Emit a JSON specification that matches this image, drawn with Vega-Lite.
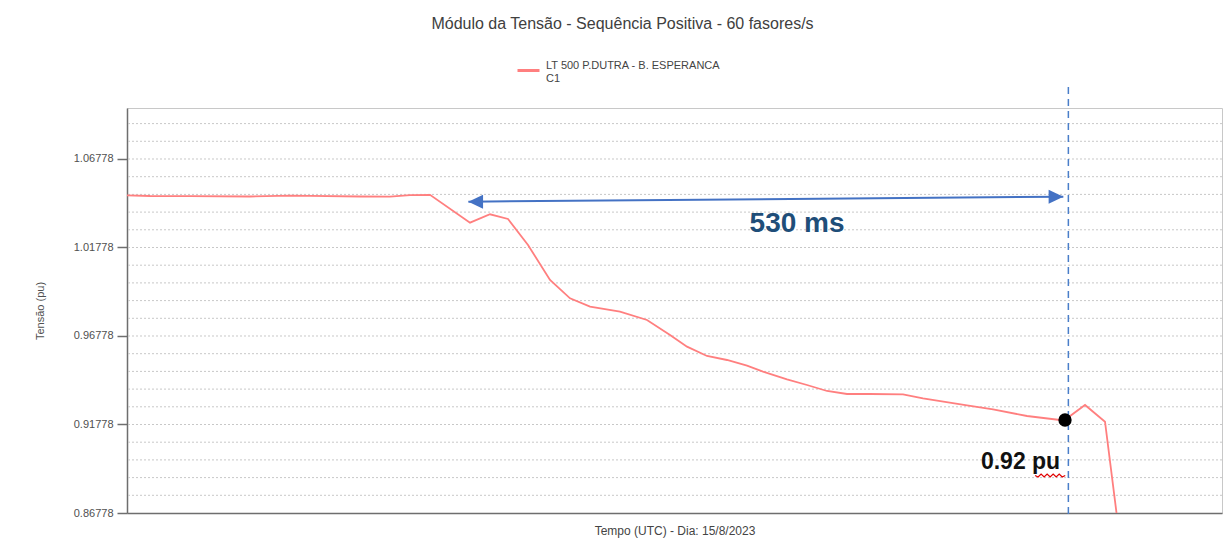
{
  "$schema": "https://vega.github.io/schema/vega-lite/v6.json",
  "autosize": {"type": "none"},
  "width": 1095,
  "height": 405,
  "padding": {"left": 127, "top": 108, "right": 3, "bottom": 25},
  "background": "white",
  "title": {
    "text": "Módulo da Tensão - Sequência Positiva - 60 fasores/s",
    "font": "Liberation Sans",
    "fontSize": 16,
    "fontWeight": "normal",
    "color": "#404040",
    "anchor": "middle",
    "dx": -52,
    "offset": 26
  },
  "config": {
    "view": {"stroke": "#c8c8c8", "strokeWidth": 1},
    "font": "Liberation Sans"
  },
  "datasets": {
    "grade": [
      {"pu": 0.87778}, {"pu": 0.88778}, {"pu": 0.89778}, {"pu": 0.90778}, {"pu": 0.91778},
      {"pu": 0.92778}, {"pu": 0.93778}, {"pu": 0.94778}, {"pu": 0.95778}, {"pu": 0.96778},
      {"pu": 0.97778}, {"pu": 0.98778}, {"pu": 0.99778}, {"pu": 1.00778}, {"pu": 1.01778},
      {"pu": 1.02778}, {"pu": 1.03778}, {"pu": 1.04778}, {"pu": 1.05778}, {"pu": 1.06778},
      {"pu": 1.07778}, {"pu": 1.08778}
    ],
    "serie": [
      {"t": 0, "pu": 1.04727, "serie": "LT 500  P.DUTRA - B. ESPERANCA C1"},
      {"t": 20.6, "pu": 1.04688, "serie": "LT 500  P.DUTRA - B. ESPERANCA C1"},
      {"t": 56.4, "pu": 1.04677, "serie": "LT 500  P.DUTRA - B. ESPERANCA C1"},
      {"t": 110.1, "pu": 1.04659, "serie": "LT 500  P.DUTRA - B. ESPERANCA C1"},
      {"t": 145.9, "pu": 1.0471, "serie": "LT 500  P.DUTRA - B. ESPERANCA C1"},
      {"t": 163.8, "pu": 1.04699, "serie": "LT 500  P.DUTRA - B. ESPERANCA C1"},
      {"t": 208.5, "pu": 1.04659, "serie": "LT 500  P.DUTRA - B. ESPERANCA C1"},
      {"t": 235.4, "pu": 1.04653, "serie": "LT 500  P.DUTRA - B. ESPERANCA C1"},
      {"t": 253.3, "pu": 1.04733, "serie": "LT 500  P.DUTRA - B. ESPERANCA C1"},
      {"t": 271.2, "pu": 1.04755, "serie": "LT 500  P.DUTRA - B. ESPERANCA C1"},
      {"t": 307.0, "pu": 1.03179, "serie": "LT 500  P.DUTRA - B. ESPERANCA C1"},
      {"t": 324.9, "pu": 1.03654, "serie": "LT 500  P.DUTRA - B. ESPERANCA C1"},
      {"t": 341.0, "pu": 1.03388, "serie": "LT 500  P.DUTRA - B. ESPERANCA C1"},
      {"t": 358.9, "pu": 1.01919, "serie": "LT 500  P.DUTRA - B. ESPERANCA C1"},
      {"t": 378.6, "pu": 0.99942, "serie": "LT 500  P.DUTRA - B. ESPERANCA C1"},
      {"t": 396.5, "pu": 0.98908, "serie": "LT 500  P.DUTRA - B. ESPERANCA C1"},
      {"t": 414.4, "pu": 0.98433, "serie": "LT 500  P.DUTRA - B. ESPERANCA C1"},
      {"t": 441.2, "pu": 0.98151, "serie": "LT 500  P.DUTRA - B. ESPERANCA C1"},
      {"t": 465.4, "pu": 0.97682, "serie": "LT 500  P.DUTRA - B. ESPERANCA C1"},
      {"t": 486.0, "pu": 0.96834, "serie": "LT 500  P.DUTRA - B. ESPERANCA C1"},
      {"t": 501.2, "pu": 0.96174, "serie": "LT 500  P.DUTRA - B. ESPERANCA C1"},
      {"t": 519.1, "pu": 0.95648, "serie": "LT 500  P.DUTRA - B. ESPERANCA C1"},
      {"t": 537.0, "pu": 0.95422, "serie": "LT 500  P.DUTRA - B. ESPERANCA C1"},
      {"t": 554.9, "pu": 0.951, "serie": "LT 500  P.DUTRA - B. ESPERANCA C1"},
      {"t": 569.2, "pu": 0.94761, "serie": "LT 500  P.DUTRA - B. ESPERANCA C1"},
      {"t": 590.7, "pu": 0.94332, "serie": "LT 500  P.DUTRA - B. ESPERANCA C1"},
      {"t": 608.6, "pu": 0.9401, "serie": "LT 500  P.DUTRA - B. ESPERANCA C1"},
      {"t": 626.5, "pu": 0.93671, "serie": "LT 500  P.DUTRA - B. ESPERANCA C1"},
      {"t": 644.4, "pu": 0.93501, "serie": "LT 500  P.DUTRA - B. ESPERANCA C1"},
      {"t": 665.0, "pu": 0.93501, "serie": "LT 500  P.DUTRA - B. ESPERANCA C1"},
      {"t": 694.5, "pu": 0.93484, "serie": "LT 500  P.DUTRA - B. ESPERANCA C1"},
      {"t": 712.4, "pu": 0.93258, "serie": "LT 500  P.DUTRA - B. ESPERANCA C1"},
      {"t": 751.8, "pu": 0.92863, "serie": "LT 500  P.DUTRA - B. ESPERANCA C1"},
      {"t": 775.1, "pu": 0.92637, "serie": "LT 500  P.DUTRA - B. ESPERANCA C1"},
      {"t": 805.5, "pu": 0.92258, "serie": "LT 500  P.DUTRA - B. ESPERANCA C1"},
      {"t": 838.6, "pu": 0.92004, "serie": "LT 500  P.DUTRA - B. ESPERANCA C1"},
      {"t": 857.4, "pu": 0.9288, "serie": "LT 500  P.DUTRA - B. ESPERANCA C1"},
      {"t": 875.3, "pu": 0.91936, "serie": "LT 500  P.DUTRA - B. ESPERANCA C1"},
      {"t": 885.6, "pu": 0.86778, "serie": "LT 500  P.DUTRA - B. ESPERANCA C1"}
    ],
    "marcador": [{"t": 842.5, "pu": 1.10845, "pu2": 0.86552}],
    "seta": [{"t": 305.5, "t2": 838.0, "pu": 1.04366, "pu2": 1.04648}],
    "pontas": [
      {"t": 305.5, "pu": 1.04366, "dir": "left"},
      {"t": 838.0, "pu": 1.04648, "dir": "right"}
    ],
    "ponto": [{"t": 839.5, "pu": 0.92032}],
    "rotulo530": [{"t": 599.7, "pu": 1.03106, "label": "530 ms"}],
    "rotulo092": [{"t": 799.7, "pu": 0.89247, "label": "0.92 pu"}],
    "sublinhado": [
      {"t": 812.7, "pu": 0.88897},
      {"t": 815.4, "pu": 0.88812},
      {"t": 818.1, "pu": 0.88981},
      {"t": 820.8, "pu": 0.88812},
      {"t": 823.5, "pu": 0.88981},
      {"t": 826.2, "pu": 0.88812},
      {"t": 828.9, "pu": 0.88981},
      {"t": 831.6, "pu": 0.88812},
      {"t": 834.3, "pu": 0.88981},
      {"t": 837.0, "pu": 0.88812},
      {"t": 839.7, "pu": 0.88897}
    ]
  },
  "layer": [
    {
      "data": {"name": "grade"},
      "mark": {"type": "rule", "color": "#c8c8c8", "strokeWidth": 1, "strokeDash": [2, 2]},
      "encoding": {
        "y": {"field": "pu", "type": "quantitative"}
      }
    },
    {
      "data": {"name": "serie"},
      "mark": {"type": "line", "strokeWidth": 1.8, "clip": true},
      "encoding": {
        "x": {
          "field": "t",
          "type": "quantitative",
          "scale": {"domain": [0, 980], "nice": false, "zero": false},
          "axis": {
            "title": "Tempo (UTC) - Dia: 15/8/2023",
            "labels": false,
            "ticks": false,
            "grid": false,
            "domainColor": "#6e6e6e",
            "domainWidth": 1.5,
            "titleFont": "Liberation Sans",
            "titleFontSize": 12,
            "titleFontWeight": "normal",
            "titleColor": "#444444",
            "titlePadding": 12
          }
        },
        "y": {
          "field": "pu",
          "type": "quantitative",
          "scale": {"domain": [0.86778, 1.09659], "nice": false, "zero": false},
          "axis": {
            "title": "Tensão (pu)",
            "values": [0.86778, 0.91778, 0.96778, 1.01778, 1.06778],
            "format": ".5f",
            "labelOverlap": false,
            "tickSize": 10,
            "tickColor": "#6e6e6e",
            "tickWidth": 1.5,
            "labelPadding": 4,
            "labelFont": "Liberation Sans",
            "labelFontSize": 11,
            "labelColor": "#505050",
            "domainColor": "#6e6e6e",
            "domainWidth": 1.5,
            "grid": false,
            "titleX": -87,
            "titleY": 202.5,
            "titleAngle": -90,
            "titleAlign": "center",
            "titleBaseline": "middle",
            "titleFont": "Liberation Sans",
            "titleFontSize": 11,
            "titleFontWeight": "normal",
            "titleColor": "#505050"
          }
        },
        "color": {
          "field": "serie",
          "type": "nominal",
          "scale": {"range": ["#ff7f7f"]},
          "legend": {
            "title": null,
            "orient": "none",
            "legendX": 389,
            "legendY": -50,
            "symbolType": "stroke",
            "symbolSize": 484,
            "symbolStrokeWidth": 3,
            "labelExpr": "['LT 500  P.DUTRA - B. ESPERANCA', 'C1']",
            "labelBaseline": "bottom",
            "labelFont": "Liberation Sans",
            "labelFontSize": 11,
            "labelColor": "#444444",
            "labelLimit": 400,
            "labelOffset": 5,
            "padding": 0
          }
        }
      }
    },
    {
      "data": {"name": "marcador"},
      "mark": {"type": "rule", "color": "#4a7ec9", "strokeWidth": 1.5, "strokeDash": [7, 5]},
      "encoding": {
        "x": {"field": "t", "type": "quantitative"},
        "y": {"field": "pu", "type": "quantitative"},
        "y2": {"field": "pu2"}
      }
    },
    {
      "data": {"name": "seta"},
      "mark": {"type": "rule", "color": "#4472c4", "strokeWidth": 2},
      "encoding": {
        "x": {"field": "t", "type": "quantitative"},
        "x2": {"field": "t2"},
        "y": {"field": "pu", "type": "quantitative"},
        "y2": {"field": "pu2"}
      }
    },
    {
      "data": {"name": "pontas"},
      "mark": {"type": "point", "filled": true, "color": "#4472c4", "opacity": 1, "size": 196},
      "encoding": {
        "x": {"field": "t", "type": "quantitative"},
        "y": {"field": "pu", "type": "quantitative"},
        "shape": {
          "field": "dir",
          "type": "nominal",
          "scale": {"domain": ["left", "right"], "range": ["M0,0L2.1,-1L2.1,1Z", "M0,0L-2.1,-1L-2.1,1Z"]},
          "legend": null
        }
      }
    },
    {
      "data": {"name": "ponto"},
      "mark": {"type": "point", "filled": true, "color": "#000000", "opacity": 1, "size": 177, "shape": "circle"},
      "encoding": {
        "x": {"field": "t", "type": "quantitative"},
        "y": {"field": "pu", "type": "quantitative"}
      }
    },
    {
      "data": {"name": "rotulo530"},
      "mark": {"type": "text", "font": "Liberation Sans", "fontSize": 28, "fontWeight": "bold", "color": "#1f4e79", "align": "center", "baseline": "middle"},
      "encoding": {
        "x": {"field": "t", "type": "quantitative"},
        "y": {"field": "pu", "type": "quantitative"},
        "text": {"field": "label"}
      }
    },
    {
      "data": {"name": "rotulo092"},
      "mark": {"type": "text", "font": "Liberation Sans", "fontSize": 23, "fontWeight": "bold", "color": "#111111", "align": "center", "baseline": "alphabetic"},
      "encoding": {
        "x": {"field": "t", "type": "quantitative"},
        "y": {"field": "pu", "type": "quantitative"},
        "text": {"field": "label"}
      }
    },
    {
      "data": {"name": "sublinhado"},
      "mark": {"type": "line", "color": "#e00000", "strokeWidth": 1.2},
      "encoding": {
        "x": {"field": "t", "type": "quantitative"},
        "y": {"field": "pu", "type": "quantitative"}
      }
    }
  ]
}
